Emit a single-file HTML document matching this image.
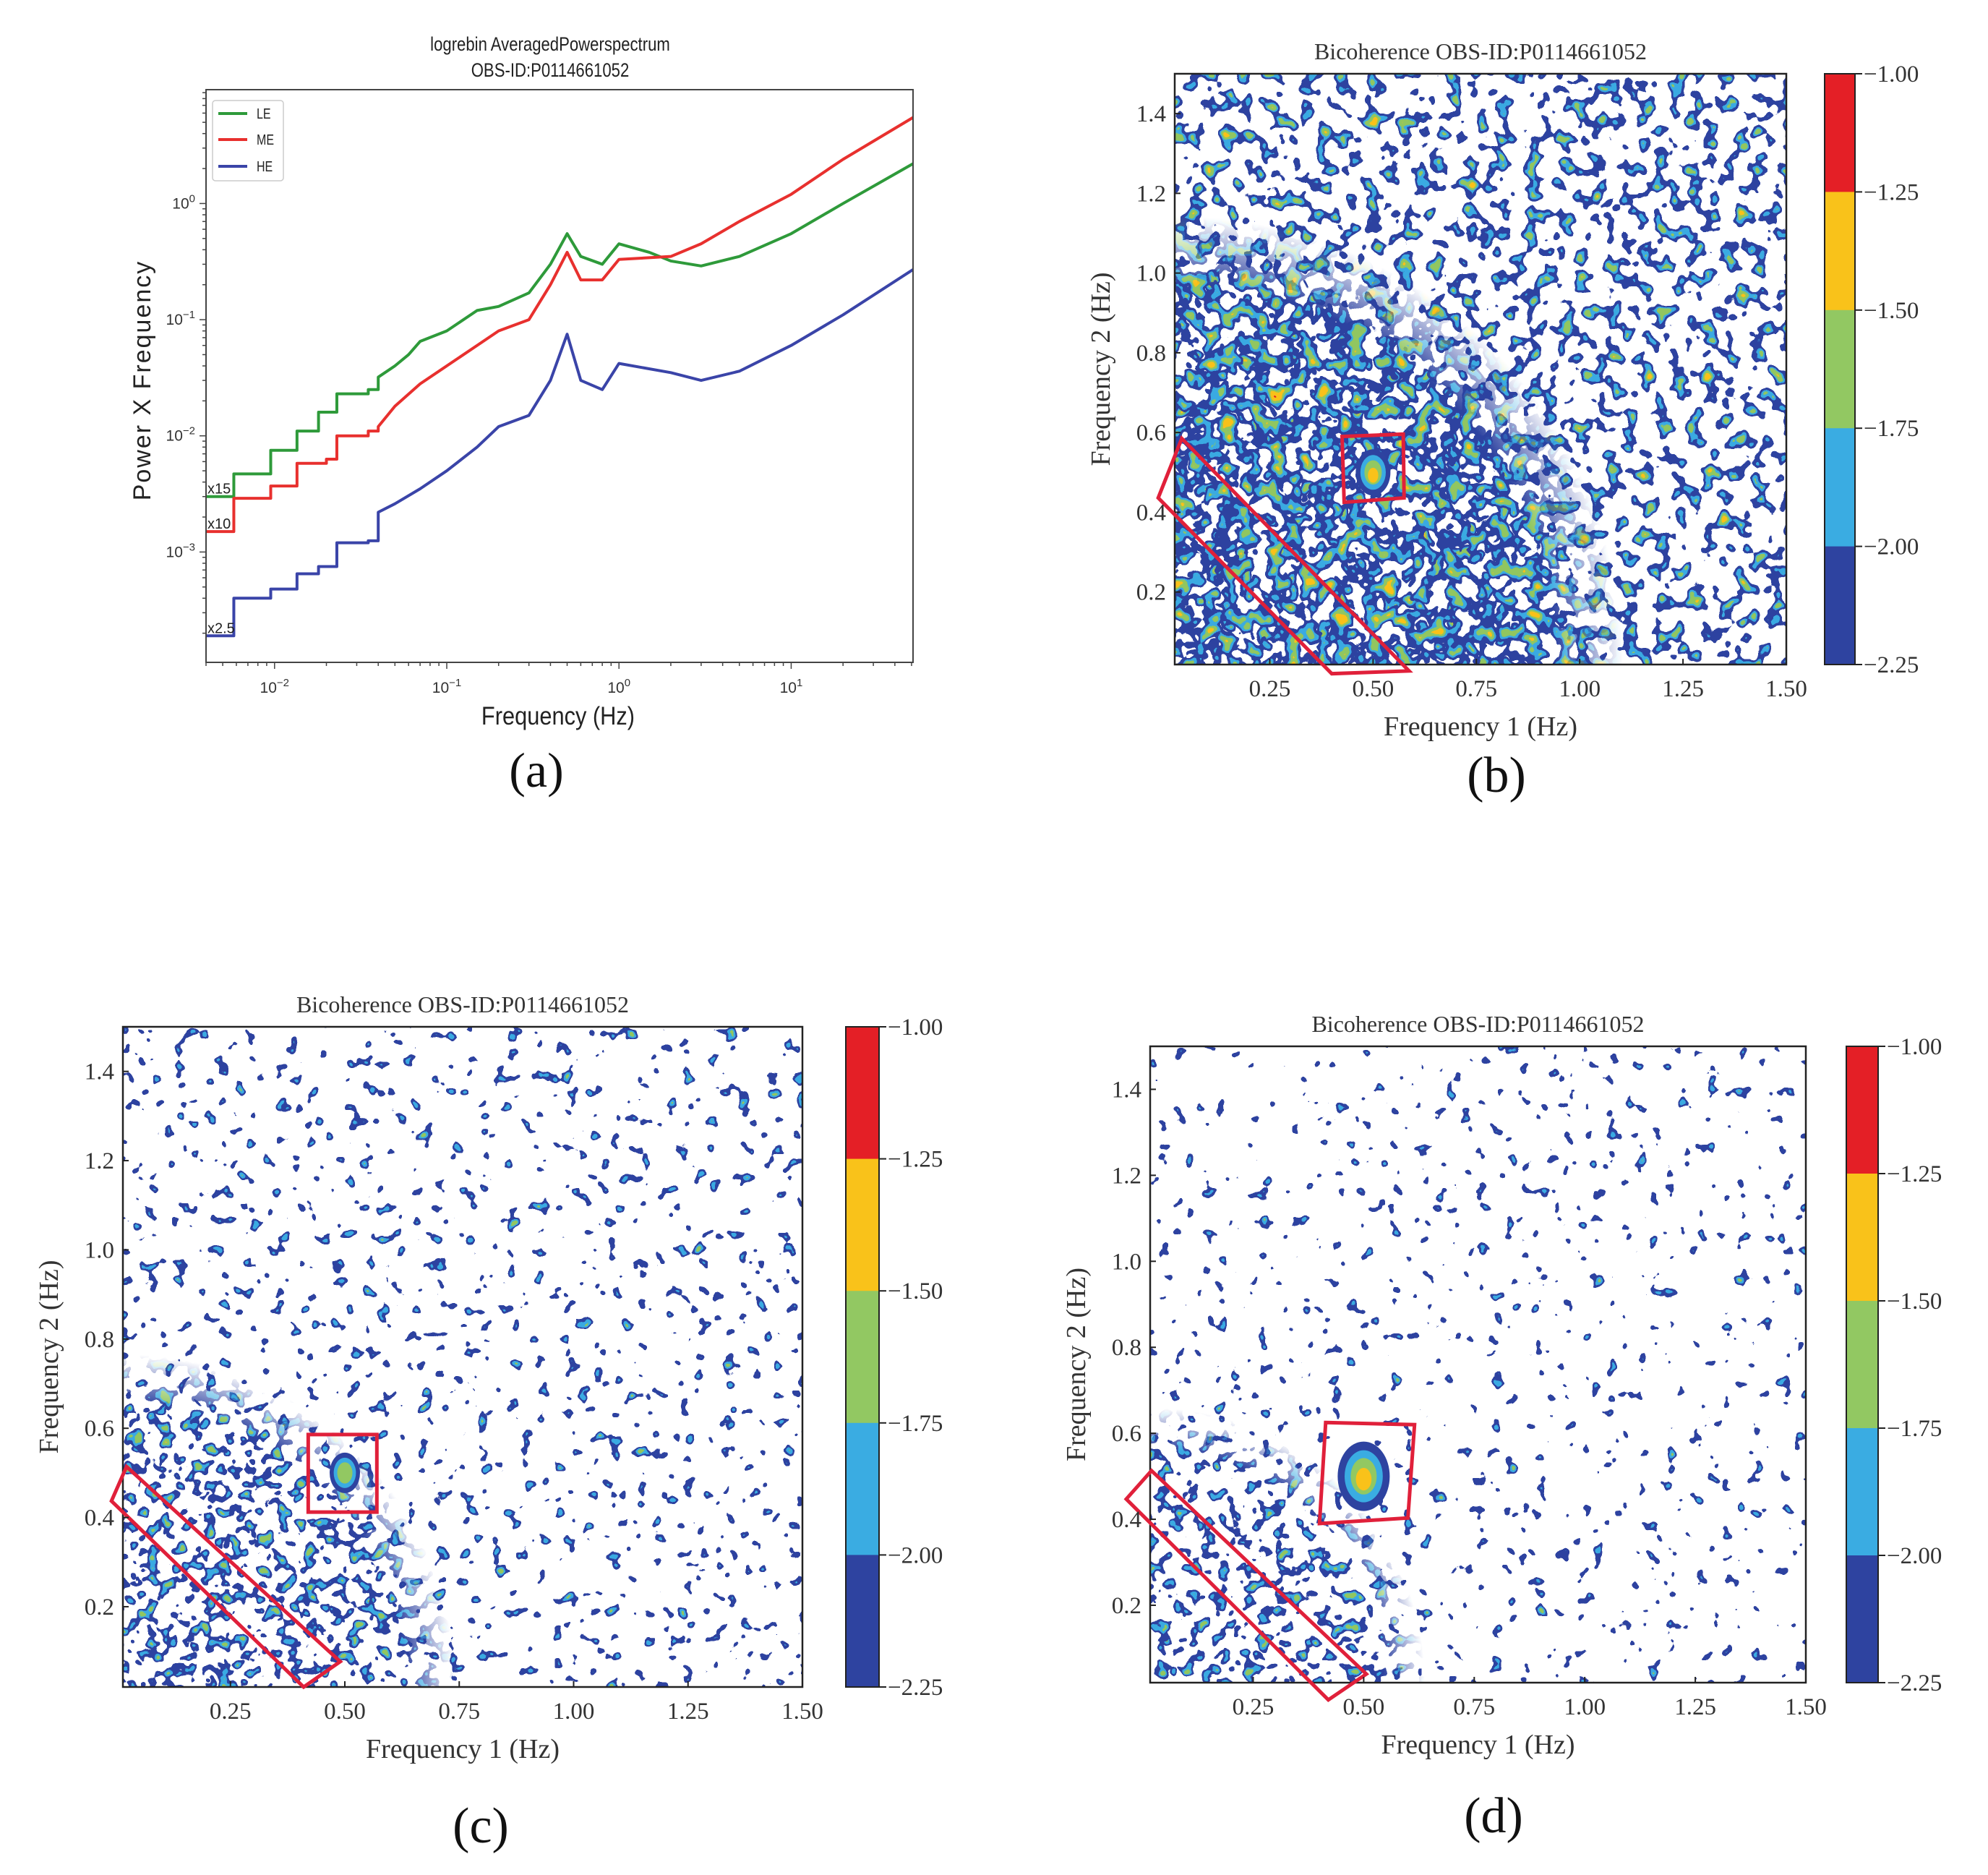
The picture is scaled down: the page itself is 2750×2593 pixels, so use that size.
<!DOCTYPE html>
<html><head><meta charset="utf-8">
<style>
html,body{margin:0;padding:0;background:#fff;}
svg{display:block;}
</style></head>
<body>
<svg id="fig" xmlns="http://www.w3.org/2000/svg" width="2750" height="2593" viewBox="0 0 2750 2593">
<rect width="2750" height="2593" fill="#fff"/>
<defs id="defs"></defs>
<g id="panelA"></g>
<g id="panelB"></g>
<g id="panelC"></g>
<g id="panelD"></g>
</svg>
<script>
// ---------- Panel (a) data ----------
const leFreq = [0.004,0.0058,0.0095,0.0135,0.018,0.023,0.035,0.04,0.05,0.06,0.07,0.1,0.15,0.2,0.3,0.4,0.5,0.6,0.8,1.0,1.5,2,3,5,10,20,51];
const leVal  = [3.0e-3,4.7e-3,7.5e-3,1.1e-2,1.6e-2,2.3e-2,2.5e-2,3.2e-2,4.0e-2,5.0e-2,6.5e-2,8e-2,0.12,0.13,0.17,0.3,0.55,0.35,0.3,0.45,0.38,0.32,0.29,0.35,0.55,1.0,2.2];
const meFreq = [0.004,0.0058,0.0095,0.0135,0.02,0.023,0.035,0.04,0.05,0.07,0.1,0.15,0.2,0.3,0.4,0.5,0.6,0.8,1.0,2,3,5,10,20,51];
const meVal  = [1.5e-3,2.9e-3,3.7e-3,5.8e-3,6.3e-3,1.0e-2,1.1e-2,1.2e-2,1.8e-2,2.8e-2,4e-2,6e-2,8e-2,0.1,0.2,0.38,0.22,0.22,0.33,0.35,0.45,0.7,1.2,2.4,5.5];
const heFreq = [0.004,0.0058,0.0095,0.0135,0.018,0.023,0.035,0.04,0.05,0.07,0.1,0.15,0.2,0.3,0.4,0.5,0.6,0.8,1.0,2,3,5,10,20,51];
const heVal  = [1.9e-4,4.0e-4,4.8e-4,6.5e-4,7.5e-4,1.2e-3,1.25e-3,2.2e-3,2.6e-3,3.5e-3,5e-3,8e-3,1.2e-2,1.5e-2,3e-2,7.5e-2,3e-2,2.5e-2,4.2e-2,3.5e-2,3e-2,3.6e-2,6e-2,0.11,0.27];
const xTickExp = [-2,-1,0,1];
const yTickExp = [0,-1,-2,-3];
const stepLimit = 0.04;

// ---------- Colorbar data ----------
const cbLevels = ["-1.00","-1.25","-1.50","-1.75","-2.00","-2.25"];
const cbColors = ["#e41f26","#f9c21a","#92c862","#3aace2","#2e43a0"];
const freqTicks = [0.25,0.5,0.75,1.0,1.25,1.5];
const freqTickLabels = ["0.25","0.50","0.75","1.00","1.25","1.50"];
const f2Ticks = [0.2,0.4,0.6,0.8,1.0,1.2,1.4];
const f2TickLabels = ["0.2","0.4","0.6","0.8","1.0","1.2","1.4"];

// region boxes (data coords)
const bBand = [[0.037,0.585],[-0.02,0.436],[0.40,-0.005],[0.587,0.002]];
const bSquare = [[0.425,0.59],[0.573,0.596],[0.575,0.436],[0.43,0.425]];
const cBand = [[0.023,0.514],[-0.01,0.437],[0.41,0.02],[0.49,0.077]];
const cSquare = [[0.42,0.586],[0.57,0.586],[0.57,0.412],[0.42,0.412]];
const dBand = [[0.02,0.513],[-0.037,0.447],[0.42,-0.02],[0.506,0.04]];
const dSquare = [[0.414,0.625],[0.615,0.62],[0.60,0.403],[0.40,0.39]];

const NS = "http://www.w3.org/2000/svg";
function mk(tag, attrs, parent, txt){
  const e = document.createElementNS(NS, tag);
  for (const k in attrs) e.setAttribute(k, attrs[k]);
  if (txt !== undefined) e.textContent = txt;
  if (parent) parent.appendChild(e);
  return e;
}

// ================= Panel A =================
(function(){
  const g = document.getElementById('panelA');
  const L=285,R=1263,T=124,B=916;
  const xMin=Math.log10(0.004), xMax=Math.log10(51);
  const yMin=-3.95, yMax=0.98;
  const X = f => L + (Math.log10(f)-xMin)/(xMax-xMin)*(R-L);
  const Y = v => B - (Math.log10(v)-yMin)/(yMax-yMin)*(B-T);
  const sans = '"Liberation Sans", sans-serif';

  let t = mk('text',{x:761,y:70,'text-anchor':'middle','font-family':sans,'font-size':27,fill:'#222',transform:'translate(761 0) scale(0.82 1) translate(-761 0)'},g,'logrebin AveragedPowerspectrum');
  
  
  t = mk('text',{x:761,y:106,'text-anchor':'middle','font-family':sans,'font-size':27,fill:'#222',transform:'translate(761 0) scale(0.82 1) translate(-761 0)'},g,'OBS-ID:P0114661052');
  
  

  function draw(fr, vals, color, name){
    let d='';
    for(let i=0;i<fr.length;i++){
      const x=X(fr[i]), y=Y(vals[i]);
      if(i===0){ d+=`M${x},${y}`; continue; }
      if(fr[i] <= stepLimit){ d+=` H${x} V${y}`; }
      else d+=` L${x},${y}`;
    }
    const p = mk('path',{d:d,fill:'none',stroke:color,'stroke-width':4,'stroke-linejoin':'round'},g);
    
    
  }
  draw(leFreq,leVal,'#2e9a3a','series-le');
  draw(meFreq,meVal,'#e8302e','series-me');
  draw(heFreq,heVal,'#3a44a8','series-he');

  let f = mk('rect',{x:L,y:T,width:R-L,height:B-T,fill:'none',stroke:'#444','stroke-width':2},g);
  
  

  for(let e=-3;e<=1;e++){
    for(let m=1;m<10;m++){
      const v=m*Math.pow(10,e);
      if(v<0.004||v>51) continue;
      const x=X(v);
      mk('line',{x1:x,x2:x,y1:B,y2:B+(m===1?9:5),stroke:'#444','stroke-width':1.5},g);
    }
  }
  xTickExp.forEach(e=>{
    const x=X(Math.pow(10,e));
    const tx=mk('text',{x:x,y:958,'text-anchor':'middle','font-family':sans,'font-size':21,fill:'#333'},g);
    
    
    mk('tspan',{},tx,'10');
    mk('tspan',{dy:-9,'font-size':15},tx,String(e).replace('-','\u2212'));
  });
  for(let e=-4;e<=0;e++){
    for(let m=1;m<10;m++){
      const v=m*Math.pow(10,e);
      const lv=Math.log10(v);
      if(lv<yMin||lv>yMax) continue;
      const y=Y(v);
      mk('line',{x1:L,x2:L-(m===1?9:5),y1:y,y2:y,stroke:'#444','stroke-width':1.5},g);
    }
  }
  yTickExp.forEach(e=>{
    const y=Y(Math.pow(10,e));
    const tx=mk('text',{x:270,y:y+7,'text-anchor':'end','font-family':sans,'font-size':21,fill:'#333'},g);
    
    
    mk('tspan',{},tx,'10');
    mk('tspan',{dy:-9,'font-size':15},tx,String(e).replace('-','\u2212'));
  });

  [['x15',leVal[0]],['x10',meVal[0]],['x2.5',heVal[0]]].forEach((a,i)=>{
    const tx=mk('text',{x:287,y:Y(a[1])-4,'font-family':sans,'font-size':20,fill:'#222'},g,a[0]);
    
    
  });

  const lg = mk('g',{},g);
  
  
  mk('rect',{x:294,y:139,width:98,height:111,rx:4,fill:'#fff',stroke:'#ccc','stroke-width':1.5},lg);
  [['LE','#2e9a3a',157],['ME','#e8302e',193],['HE','#3a44a8',230]].forEach(a=>{
    const e=mk('g',{},lg);
    
    
    mk('line',{x1:302,x2:342,y1:a[2],y2:a[2],stroke:a[1],'stroke-width':4},e);
    mk('text',{x:355,y:a[2]+7,'font-family':sans,'font-size':20,fill:'#222',transform:`translate(355 0) scale(0.8 1) translate(-355 0)`},e,a[0]);
  });

  t=mk('text',{x:772,y:1002,'text-anchor':'middle','font-family':sans,'font-size':35,fill:'#222',transform:'translate(772 0) scale(0.88 1) translate(-772 0)'},g,'Frequency (Hz)');
  
  
  t=mk('text',{x:0,y:0,'text-anchor':'middle','font-family':sans,'font-size':34,fill:'#222','letter-spacing':2,transform:'translate(208 526) rotate(-90)'},g,'Power X Frequency');
  
  
  t=mk('text',{x:742,y:1088,'text-anchor':'middle','font-family':'"Liberation Serif", serif','font-size':68,fill:'#111'},g,'(a)');
  
  
})();

// ================= Contour panels =================
const defs = document.getElementById('defs');
function levelTables(t0,t1,t2,t3,t4){
  const n=100, r=[],gg=[],b=[],a=[];
  for(let k=0;k<n;k++){
    const v=k/n; let c, al=1;
    if(v<t0){ c=[1,1,1]; al=0; }
    else if(v<t1) c=[0.18,0.26,0.63];
    else if(v<t2) c=[0.23,0.67,0.89];
    else if(v<t3) c=[0.57,0.78,0.38];
    else if(v<t4) c=[0.98,0.76,0.10];
    else c=[0.89,0.12,0.15];
    r.push(c[0]); gg.push(c[1]); b.push(c[2]); a.push(al);
  }
  return [r.join(' '),gg.join(' '),b.join(' '),a.join(' ')];
}
function makeFilter2(id, seed, freq, th){
  const f = mk('filter',{id:id,x:0,y:0,width:1,height:1,'color-interpolation-filters':'sRGB'},defs);
  mk('feTurbulence',{type:'fractalNoise',baseFrequency:freq,numOctaves:2,seed:seed,result:'n'},f);
  mk('feColorMatrix',{in:'n',type:'matrix',values:'1 0 0 0 0  1 0 0 0 0  1 0 0 0 0  0 0 0 0 1',result:'g'},f);
  const tb = levelTables(th[0],th[1],th[2],th[3],th[4]);
  const ct = mk('feComponentTransfer',{in:'g',result:'col'},f);
  mk('feFuncR',{type:'discrete',tableValues:tb[0]},ct);
  mk('feFuncG',{type:'discrete',tableValues:tb[1]},ct);
  mk('feFuncB',{type:'discrete',tableValues:tb[2]},ct);
  const ct2 = mk('feComponentTransfer',{in:'g',result:'thr'},f);
  mk('feFuncR',{type:'discrete',tableValues:tb[3]},ct2);
  mk('feFuncG',{type:'discrete',tableValues:tb[3]},ct2);
  mk('feFuncB',{type:'discrete',tableValues:tb[3]},ct2);
  mk('feColorMatrix',{in:'thr',type:'luminanceToAlpha',result:'am'},f);
  mk('feComposite',{in:'col',in2:'am',operator:'in'},f);
}

function contourPanel(cfg){
  const g = document.getElementById(cfg.id);
  const {L,R,T,B} = cfg;
  const x0=cfg.xmin, x1=1.5, y0=cfg.ymin, y1=1.5;
  const X = v => L + (v-x0)/(x1-x0)*(R-L);
  const Y = v => B - (v-y0)/(y1-y0)*(B-T);
  const serif='"Liberation Serif", serif';
  const clipId = cfg.id+'-clip';
  const cp = mk('clipPath',{id:clipId},defs);
  mk('rect',{x:L,y:T,width:R-L,height:B-T},cp);

  makeFilter2(cfg.id+'-f1', cfg.seed, cfg.freq, cfg.th);
  makeFilter2(cfg.id+'-f2', cfg.seed+7, cfg.freq, cfg.th2);
  const gradId = cfg.id+'-grad';
  const rg = mk('radialGradient',{id:gradId,gradientUnits:'userSpaceOnUse',cx:L,cy:B,r:cfg.denseR},defs);
  mk('stop',{offset:0,'stop-color':'#fff','stop-opacity':1},rg);
  mk('stop',{offset:0.85,'stop-color':'#fff','stop-opacity':1},rg);
  mk('stop',{offset:1,'stop-color':'#fff','stop-opacity':0},rg);
  const mask = mk('mask',{id:cfg.id+'-mask',maskUnits:'userSpaceOnUse',x:L,y:T,width:R-L,height:B-T},defs);
  mk('rect',{x:L,y:T,width:R-L,height:B-T,fill:`url(#${gradId})`},mask);

  const field = mk('g',{'clip-path':`url(#${clipId})`},g);
  
  
  mk('rect',{x:L,y:T,width:R-L,height:B-T,fill:'#fff'},field);
  mk('rect',{x:L,y:T,width:R-L,height:B-T,filter:`url(#${cfg.id}-f1)`},field);
  const dense = mk('g',{mask:`url(#${cfg.id}-mask)`},field);
  mk('rect',{x:L,y:T,width:R-L,height:B-T,filter:`url(#${cfg.id}-f2)`},dense);
  if(cfg.blob){
    const cx=X(0.5), cy=Y(0.5);
    const bl = mk('g',{},field);
    
    
    const s = cfg.blob;
    mk('ellipse',{cx:cx,cy:cy,rx:30*s,ry:40*s,fill:'#2e43a0'},bl);
    mk('ellipse',{cx:cx,cy:cy,rx:22*s,ry:30*s,fill:'#3aace2'},bl);
    mk('ellipse',{cx:cx,cy:cy,rx:15*s,ry:21*s,fill:'#92c862'},bl);
    if(cfg.blobYellow) mk('ellipse',{cx:cx,cy:cy+4,rx:9*s,ry:13*s,fill:'#f9c21a'},bl);
  }

  let fr = mk('rect',{x:L,y:T,width:R-L,height:B-T,fill:'none',stroke:'#222','stroke-width':2.5},g);
  
  

  [[cfg.band,'band-region-box'],[cfg.square,'peak-region-box']].forEach(a=>{
    const pts = a[0].map(p=>X(p[0])+','+Y(p[1])).join(' ');
    const pg = mk('polygon',{points:pts,fill:'none',stroke:'#e0203a','stroke-width':5,'stroke-linejoin':'miter'},g);
    
    
  });

  freqTicks.forEach((v,i)=>{
    const x=X(v);
    mk('line',{x1:x,x2:x,y1:B,y2:B-8,stroke:'#222','stroke-width':2},g);
    const tx=mk('text',{x:x,y:B+44,'text-anchor':'middle','font-family':serif,'font-size':33,fill:'#333'},g,freqTickLabels[i]);
    
    
  });
  f2Ticks.forEach((v,i)=>{
    const y=Y(v);
    mk('line',{x1:L,x2:L+8,y1:y,y2:y,stroke:'#222','stroke-width':2},g);
    const tx=mk('text',{x:L-12,y:y+11,'text-anchor':'end','font-family':serif,'font-size':33,fill:'#333'},g,f2TickLabels[i]);
    
    
  });

  let t=mk('text',{x:(L+R)/2,y:T-20,'text-anchor':'middle','font-family':serif,'font-size':32,fill:'#333'},g,'Bicoherence OBS-ID:P0114661052');
  
  
  t=mk('text',{x:(L+R)/2,y:B+98,'text-anchor':'middle','font-family':serif,'font-size':38,fill:'#333'},g,'Frequency 1 (Hz)');
  
  
  t=mk('text',{x:0,y:0,'text-anchor':'middle','font-family':serif,'font-size':38,fill:'#333',transform:`translate(${L-90} ${(T+B)/2}) rotate(-90)`},g,'Frequency 2 (Hz)');
  
  
  t=mk('text',{x:cfg.labX,y:cfg.labY,'text-anchor':'middle','font-family':serif,'font-size':70,fill:'#111'},g,cfg.label);
  
  

  const cb = mk('g',{},g);
  
  
  const n=cbColors.length, h=(B-T)/n;
  cbColors.forEach((c,i)=>{
    const r=mk('rect',{x:cfg.cbX,y:T+i*h,width:cfg.cbW,height:h+0.5,fill:c},cb);
    
    
  });
  mk('rect',{x:cfg.cbX,y:T,width:cfg.cbW,height:B-T,fill:'none',stroke:'#222','stroke-width':2},cb);
  cbLevels.forEach((lab,i)=>{
    const y=T+i*h;
    mk('line',{x1:cfg.cbX+cfg.cbW,x2:cfg.cbX+cfg.cbW+10,y1:y,y2:y,stroke:'#222','stroke-width':2},cb);
    const tx=mk('text',{x:cfg.cbX+cfg.cbW+12,y:y+11,'font-family':serif,'font-size':33,fill:'#333'},cb,lab.replace('-','\u2212'));
    
    
  });
}

contourPanel({id:'panelB',L:1625,R:2471,T:102,B:919,xmin:0.02,ymin:0.018,seed:3,freq:0.045,
  th:[0.55,0.66,0.73,0.83,0.96],th2:[0.47,0.58,0.66,0.76,0.92],denseR:620,
  band:bBand,square:bSquare,cbX:2524,cbW:42,label:'(b)',labX:2070,labY:1095,blob:0.8,blobYellow:true});
contourPanel({id:'panelC',L:170,R:1110,T:1420,B:2333,xmin:0.015,ymin:0.02,seed:11,freq:0.05,
  th:[0.66,0.76,0.84,0.95,1.01],th2:[0.56,0.66,0.74,0.86,1.01],denseR:460,
  band:cBand,square:cSquare,cbX:1170,cbW:46,label:'(c)',labX:665,labY:2548,blob:0.7,blobYellow:false});
contourPanel({id:'panelD',L:1591,R:2498,T:1447,B:2327,xmin:0.017,ymin:0.02,seed:19,freq:0.05,
  th:[0.68,0.78,0.86,0.96,1.01],th2:[0.58,0.68,0.76,0.90,1.01],denseR:380,
  band:dBand,square:dSquare,cbX:2554,cbW:44,label:'(d)',labX:2066,labY:2534,blob:1.2,blobYellow:true});
</script>
</body></html>
